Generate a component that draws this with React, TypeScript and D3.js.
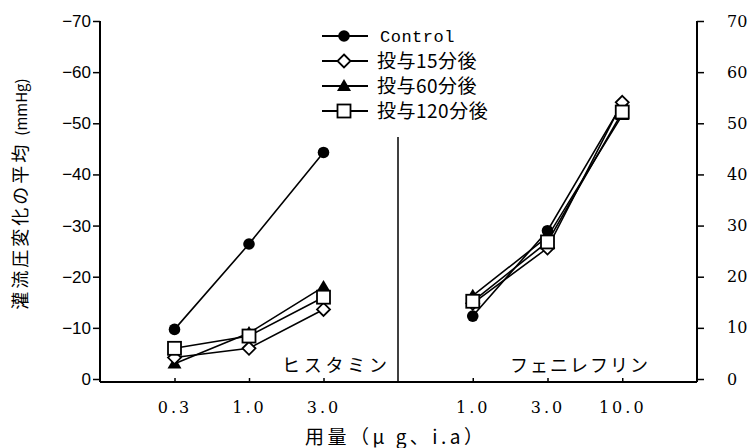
import React, { useEffect, useRef } from "react";
import * as d3 from "d3";

// dose categories per panel
const histamineDoses = ["0.3", "1.0", "3.0"];
const phenylephrineDoses = ["1.0", "3.0", "10.0"];

// mean change of perfusion pressure (mmHg, magnitude)
const controlHist = [9.7, 26.4, 44.3];
const min15Hist = [4.2, 6.0, 13.6];
const min60Hist = [3.0, 9.0, 18.0];
const min120Hist = [6.0, 8.4, 16.0];

const controlPhen = [12.3, 29.0, 53.8];
const min15Phen = [14.8, 25.6, 54.1];
const min60Phen = [16.3, 27.8, 51.6];
const min120Phen = [15.2, 26.8, 52.2];

const yTicks = [0, 10, 20, 30, 40, 50, 60, 70];

const seriesNames = ["Control", "投与15分後", "投与60分後", "投与120分後"];
const seriesMarkers = ["circle", "diamond", "triangle", "square"];

const W = 754;
const H = 448;

const App: React.FC = () => {
  const svgRef = useRef<SVGSVGElement>(null);

  useEffect(() => {
    if (!svgRef.current) return;
    const svg = d3.select(svgRef.current);
    svg.selectAll("*").remove();

    const left = 100;
    const mid = 398;
    const right = 697;
    const axisY = 382;

    const y = d3.scaleLinear().domain([0, 70]).range([379, 21]);
    const xHist = d3.scalePoint<string>().domain(histamineDoses).range([left, mid]).padding(1);
    const xPhen = d3.scalePoint<string>().domain(phenylephrineDoses).range([mid, right]).padding(1);

    const g = svg.append("g");

    // axis lines
    g.append("line").attr("x1", left).attr("x2", left).attr("y1", y(70)).attr("y2", axisY)
      .attr("stroke", "#000").attr("stroke-width", 2);
    g.append("line").attr("x1", right).attr("x2", right).attr("y1", y(70)).attr("y2", axisY)
      .attr("stroke", "#000").attr("stroke-width", 2);
    g.append("line").attr("x1", left).attr("x2", right).attr("y1", axisY).attr("y2", axisY)
      .attr("stroke", "#000").attr("stroke-width", 2);
    g.append("line").attr("x1", mid).attr("x2", mid).attr("y1", 137).attr("y2", axisY)
      .attr("stroke", "#000").attr("stroke-width", 1.5);

    // left y axis (negative labels)
    const yLeft = g.append("g").attr("transform", `translate(${left},0)`)
      .call(
        d3.axisLeft(y).tickValues(yTicks).tickSize(7).tickPadding(2)
          .tickFormat((d) => ((d as number) === 0 ? "0" : `\u2212${d}`))
      );
    yLeft.select(".domain").remove();
    yLeft.selectAll("line").attr("stroke-width", 1.5);
    yLeft.selectAll("text").style("font-family", "'Liberation Sans', sans-serif").style("font-size", "17px").attr("fill", "#000");

    // right y axis
    const yRight = g.append("g").attr("transform", `translate(${right},0)`)
      .call(d3.axisRight(y).tickValues(yTicks).tickSize(7).tickPadding(23));
    yRight.select(".domain").remove();
    yRight.selectAll("line").attr("stroke-width", 1.5);
    yRight.selectAll("text").style("font-family", "'DejaVu Serif', serif").style("font-size", "16px").attr("fill", "#000");

    // x axes
    [xHist, xPhen].forEach((xs) => {
      const ax = g.append("g").attr("transform", `translate(0,${axisY})`)
        .call(d3.axisBottom(xs).tickSize(-4).tickPadding(20));
      ax.select(".domain").remove();
      ax.selectAll("line").attr("stroke-width", 1.5);
      ax.selectAll("text")
        .style("font-family", "'DejaVu Serif', serif")
        .style("font-size", "16px")
        .style("letter-spacing", "3px")
        .attr("fill", "#000");
    });

    // axis titles
    svg.append("text")
      .attr("transform", "translate(27,194) rotate(-90)")
      .attr("text-anchor", "middle")
      .style("font-family", "'Noto Sans CJK JP', sans-serif")
      .style("font-size", "18px")
      .style("letter-spacing", "3px")
      .text("灌流圧変化の平均")
      .append("tspan")
      .style("font-size", "15px")
      .style("letter-spacing", "0px")
      .attr("dx", 6)
      .text("(mmHg)");

    svg.append("text")
      .attr("x", 305).attr("y", 444)
      .attr("textLength", 178).attr("lengthAdjust", "spacing")
      .style("font-family", "'Noto Sans CJK JP', sans-serif")
      .style("font-size", "19px")
      .text("用量（μ g、i.a）");

    // panel labels
    svg.append("text")
      .attr("x", 282).attr("y", 372)
      .attr("textLength", 105).attr("lengthAdjust", "spacing")
      .style("font-family", "'Noto Sans CJK JP', sans-serif")
      .style("font-size", "18px")
      .text("ヒスタミン");
    svg.append("text")
      .attr("x", 510).attr("y", 372)
      .attr("textLength", 138).attr("lengthAdjust", "spacing")
      .style("font-family", "'Noto Sans CJK JP', sans-serif")
      .style("font-size", "18px")
      .text("フェニレフリン");

    // marker drawing
    const drawMarker = (sel: d3.Selection<SVGGElement, unknown, null, undefined>, kind: string, cx: number, cy: number) => {
      if (kind === "circle") {
        sel.append("circle").attr("cx", cx).attr("cy", cy).attr("r", 5.8).attr("fill", "#000");
      } else if (kind === "diamond") {
        const s = 6.5;
        sel.append("path")
          .attr("d", `M${cx},${cy - s}L${cx + s},${cy}L${cx},${cy + s}L${cx - s},${cy}Z`)
          .attr("fill", "#fff").attr("stroke", "#000").attr("stroke-width", 1.8);
      } else if (kind === "triangle") {
        const s = 7;
        sel.append("path")
          .attr("d", `M${cx},${cy - s}L${cx + s},${cy + s * 0.7}L${cx - s},${cy + s * 0.7}Z`)
          .attr("fill", "#000");
      } else {
        const s = 6.5;
        sel.append("rect").attr("x", cx - s).attr("y", cy - s).attr("width", 2 * s).attr("height", 2 * s)
          .attr("fill", "#fff").attr("stroke", "#000").attr("stroke-width", 1.8);
      }
    };

    const panels = [
      { xs: xHist, doses: histamineDoses, series: [controlHist, min15Hist, min60Hist, min120Hist] },
      { xs: xPhen, doses: phenylephrineDoses, series: [controlPhen, min15Phen, min60Phen, min120Phen] },
    ];

    const order = [0, 2, 1, 3];
    panels.forEach((p) => {
      order.forEach((si) => {
        const vals = p.series[si];
        const pts: [number, number][] = vals.map((v, i) => [p.xs(p.doses[i])!, y(v)]);
        g.append("path")
          .attr("d", d3.line()(pts))
          .attr("fill", "none")
          .attr("stroke", "#000")
          .attr("stroke-width", 1.6);
      });
      order.forEach((si) => {
        const vals = p.series[si];
        const mg = g.append("g");
        vals.forEach((v, i) => drawMarker(mg, seriesMarkers[si], p.xs(p.doses[i])!, y(v)));
      });
    });

    // legend
    const legend = svg.append("g");
    seriesNames.forEach((name, i) => {
      const ly = 36 + i * 25;
      legend.append("line").attr("x1", 322).attr("x2", 368).attr("y1", ly).attr("y2", ly)
        .attr("stroke", "#000").attr("stroke-width", 1.8);
      const mg = legend.append("g");
      drawMarker(mg, seriesMarkers[i], 344, ly);
      legend.append("text")
        .attr("x", i === 0 ? 380 : 377)
        .attr("y", ly)
        .attr("dy", "0.35em")
        .style("font-family", i === 0 ? "'Liberation Mono', monospace" : "'Noto Sans CJK JP', sans-serif")
        .style("font-size", i === 0 ? "17px" : "19px")
        .style("letter-spacing", i === 0 ? "0.5px" : "0.5px")
        .text(name);
    });
  }, []);

  return (
    <div style={{ position: "absolute", left: 0, top: 0, background: "#fff" }}>
      <svg ref={svgRef} width={W} height={H} style={{ display: "block" }} />
    </div>
  );
};

export default App;
